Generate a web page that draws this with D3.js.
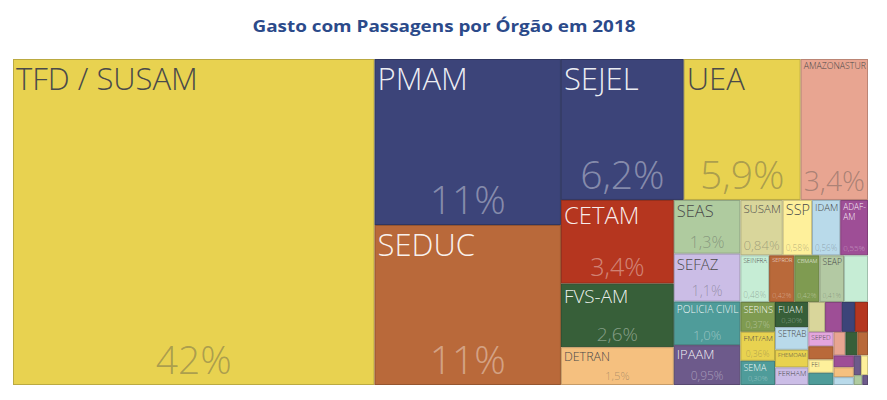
<!DOCTYPE html>
<html>

<head>
    <meta charset="UTF-8">
    <title>Gasto com Passagens por Órgão em 2018</title>
    <script src="https://d3js.org/d3.v7.min.js"></script>
    <style>
        body { margin: 0; background: #fff; }
        text { font-family: "Open Sans", "Segoe UI", sans-serif; }
    </style>
</head>

<body>
    <div class="canvas"></div>

    <script>
        // data: participação de cada órgão no gasto total (%)
        const orgaos = [
            "TFD / SUSAM", "PMAM", "SEDUC", "SEJEL", "UEA", "AMAZONASTUR",
            "CETAM", "FVS-AM", "DETRAN", "SEAS", "SEFAZ", "POLICIA CIVIL", "IPAAM",
            "SUSAM", "SSP", "IDAM", "ADAF-AM", "SEINFRA", "SEPROR", "CBMAM", "SEAP", "SEPLANCTI",
            "SERINS", "FMT/AM", "SEMA", "FUAM", "SETRAB", "FHEMOAM", "FERHAM",
            "SEJUSC", "SEDECTI", "SEAD", "CASA CIVIL", "SEPED", "CASA MILITAR", "FEI", "IMPRENSA OFICIAL",
            "ADS", "SUHAB", "IPEM", "JUCEA", "ARSAM", "UGPE", "AADES", "SECOM", "FAPEAM", "IOA"
        ];
        const gastos = [
            42.2, 11.08, 10.68, 6.2, 5.9, 3.4,
            3.38, 2.57, 1.53, 1.28, 1.14, 1.04, 0.95,
            0.84, 0.58, 0.56, 0.55, 0.48, 0.42, 0.42, 0.41, 0.40,
            0.37, 0.36, 0.30, 0.30, 0.27, 0.21, 0.21,
            0.18, 0.18, 0.14, 0.14, 0.13, 0.12, 0.12, 0.11,
            0.10, 0.10, 0.09, 0.086, 0.072, 0.057, 0.05, 0.05, 0.03, 0.02
        ];

        // colours, one per órgão (same order)
        const pal = {
            amarelo: "#e8d250", marinho: "#3c4479", laranja: "#b9693a", vermelho: "#b5361f",
            verde: "#375f39", pessego: "#f5c07f", verdeClaro: "#afcb9f", lavanda: "#cbbde6",
            petroleo: "#4f9c9a", roxo: "#6d5a8b", caqui: "#d9d69b", amareloClaro: "#fef09b",
            azulClaro: "#b9daea", magenta: "#9e4e96", menta: "#c6edd5", salmao: "#e8a591",
            oliva: "#7f9b51", rosa: "#e3a6dd", cinzaVerde: "#b3c9a3"
        };
        const cores = [
            pal.amarelo, pal.marinho, pal.laranja, pal.marinho, pal.amarelo, pal.salmao,
            pal.vermelho, pal.verde, pal.pessego, pal.verdeClaro, pal.lavanda, pal.petroleo, pal.roxo,
            pal.caqui, pal.amareloClaro, pal.azulClaro, pal.magenta, pal.menta, pal.laranja, pal.oliva, pal.cinzaVerde, pal.menta,
            pal.oliva, pal.amarelo, pal.petroleo, pal.verde, pal.azulClaro, pal.amarelo, pal.lavanda,
            pal.caqui, pal.magenta, pal.marinho, pal.vermelho, pal.rosa, pal.laranja, pal.amareloClaro, pal.petroleo,
            pal.salmao, pal.verde, pal.laranja, pal.magenta, pal.pessego, pal.azulClaro, pal.roxo, pal.amareloClaro, pal.verdeClaro, pal.roxo
        ];

        const width = 887;
        const height = 400;
        const margin = { top: 59, right: 19, bottom: 15, left: 13 };
        const graphWidth = width - margin.left - margin.right;
        const graphHeight = height - margin.top - margin.bottom;

        const svg = d3.select(".canvas")
            .append("svg")
            .attr("width", width)
            .attr("height", height);

        svg.append("text")
            .attr("x", 444)
            .attr("y", 32)
            .attr("text-anchor", "middle")
            .attr("fill", "#2b4a8a")
            .attr("font-size", 16)
            .attr("font-weight", 700)
            .attr("textLength", 383)
            .attr("lengthAdjust", "spacingAndGlyphs")
            .text("Gasto com Passagens por Órgão em 2018");

        const graph = svg.append("g")
            .attr("transform", `translate(${margin.left}, ${margin.top})`);

        const color = d3.scaleOrdinal(orgaos, cores);
        const pt = d3.formatLocale({ decimal: ",", thousands: ".", grouping: [3], currency: ["R$", ""] });
        const fmt = pt.format(".2r");

        const root = d3.hierarchy({ children: orgaos.map((o, i) => ({ name: o, value: gastos[i] })) })
            .sum(d => d.value || 0)
            .sort((a, b) => b.value - a.value);

        d3.treemap()
            .size([graphWidth, graphHeight])
            .tile(d3.treemapSquarify)(root);

        const total = root.value;

        const cells = graph.selectAll("g")
            .data(root.leaves())
            .enter()
            .append("g")
            .attr("transform", d => `translate(${d.x0}, ${d.y0})`);

        cells.append("rect")
            .attr("x", 0.5)
            .attr("y", 0.5)
            .attr("width", d => Math.max(0, d.x1 - d.x0 - 1))
            .attr("height", d => Math.max(0, d.y1 - d.y0 - 1))
            .attr("fill", d => color(d.data.name))
            .attr("stroke", d => d3.color(color(d.data.name)).darker(0.6))
            .attr("stroke-width", 1);

        // shrink a text until it fits the width
        const fit = (sel, size, avail) => {
            sel.attr("font-size", size);
            const spans = sel.selectAll("tspan").nodes();
            const nodes = spans.length ? spans : [sel.node()];
            const len = d3.max(nodes, n => n.getComputedTextLength());
            if (len > avail) size = size * avail / len;
            sel.attr("font-size", size);
            return size;
        };

        cells.each(function (d) {
            const w = d.x1 - d.x0;
            const h = d.y1 - d.y0;
            const g = d3.select(this);
            const dark = d3.hsl(color(d.data.name)).l < 0.5;
            const ink = dark ? "#ffffff" : "#4a4a4a";
            if (h < 12.5) return;

            const nominal = Math.min(31, 3 + h * 0.25);
            const name = g.append("text")
                .attr("x", 3)
                .attr("fill", ink)
                .attr("fill-opacity", dark ? 0.92 : 1)
                .attr("font-weight", 300)
                .text(d.data.name);
            let ns = fit(name, nominal, w - 5);
            let lines = 1;

            // hyphenated names break onto two lines when squeezed
            if (ns < nominal * 0.7 && d.data.name.includes("-")) {
                const parts = d.data.name.split("-");
                name.text(null);
                name.append("tspan").attr("x", 3).attr("dy", 0).text(parts[0] + "-");
                name.append("tspan").attr("x", 3).attr("dy", "1.2em").text(parts[1]);
                ns = fit(name, Math.min(nominal, 9), w - 5);
                lines = 2;
            }
            if (ns < 4.5) { name.remove(); return; }
            const nameBase = 2 + ns * 0.93;
            name.attr("y", nameBase);
            const nameBottom = nameBase + (lines - 1) * ns * 1.2 + ns * 0.27;

            if (h < 24) return;
            const pct = g.append("text")
                .attr("x", w / 2)
                .attr("text-anchor", "middle")
                .attr("fill", ink)
                .attr("fill-opacity", 0.4)
                .attr("font-weight", 300)
                .text(fmt(d.value / total * 100) + "%");
            const room = (h - 2 - nameBottom) / 1.3;
            const ps = fit(pct, Math.min(39, h * 0.3, room), w - 6);
            if (ps < 4.5) { pct.remove(); return; }
            pct.attr("y", h - 2 - ps * 0.24);
        });
    </script>
</body>

</html>
